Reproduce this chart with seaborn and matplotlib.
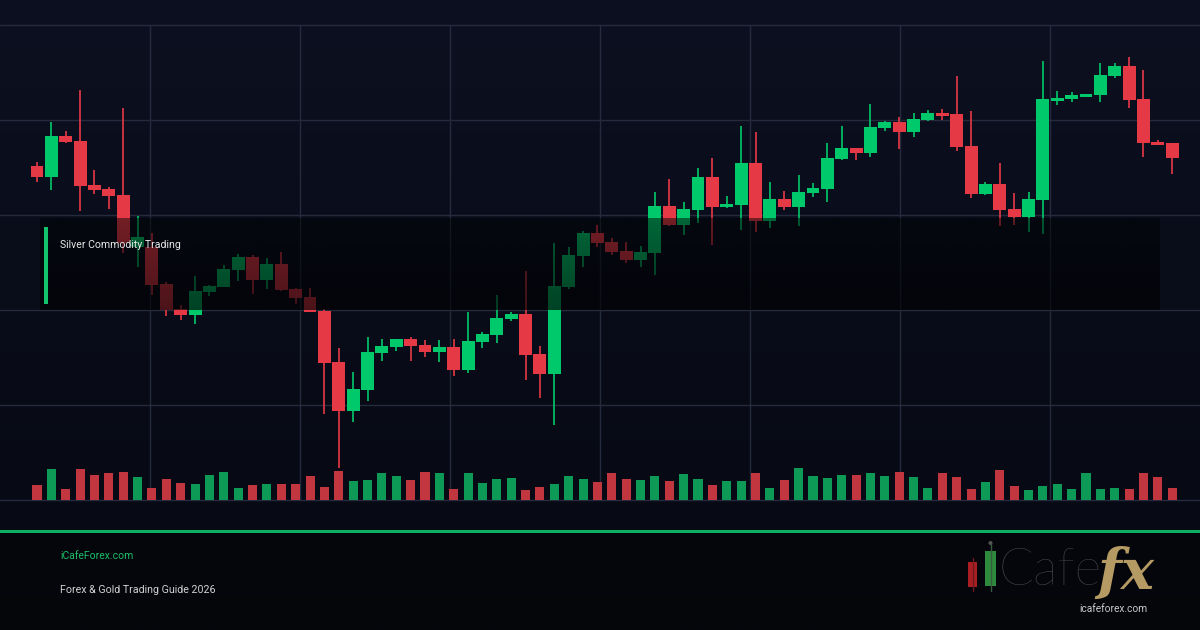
import numpy as np
import pandas as pd
import matplotlib.pyplot as plt
import matplotlib.colors as mcolors
from matplotlib.patches import Rectangle, Circle
import seaborn as sns

# candle readings (price units, one value per session)
opens = [334, 323, 364, 359, 315, 311, 305, 253, 253, 216,
         191, 185, 208, 213, 230, 243, 220, 236, 211, 203,
         189, 138, 89, 110, 147, 153, 161, 155, 148, 153,
         130, 158, 165, 181, 186, 146, 126, 213, 244, 267,
         258, 249, 240, 247, 294, 275, 290, 323, 293, 295,
         337, 279, 301, 293, 307, 311, 341, 352, 347, 372,
         378, 368, 380, 387, 386, 354, 306, 316, 291, 283,
         300, 399, 401, 403, 405, 424, 434, 401, 358, 357]
highs = [338, 378, 369, 410, 330, 313, 392, 284, 267, 218,
         195, 224, 215, 235, 246, 245, 242, 248, 212, 212,
         191, 152, 128, 163, 161, 161, 163, 160, 160, 161,
         188, 168, 205, 188, 229, 154, 257, 253, 269, 275,
         262, 258, 254, 308, 321, 298, 332, 342, 304, 374,
         368, 318, 309, 325, 317, 357, 374, 352, 396, 379,
         383, 387, 390, 391, 424, 389, 318, 337, 307, 308,
         439, 409, 408, 406, 437, 437, 443, 430, 360, 357]
lows = [318, 310, 357, 289, 306, 291, 247, 233, 205, 184,
        180, 176, 204, 213, 219, 206, 211, 209, 196, 188,
        86, 32, 78, 99, 139, 149, 139, 143, 138, 124,
        127, 152, 157, 179, 120, 102, 75, 211, 233, 253,
        245, 237, 233, 225, 274, 265, 277, 255, 292, 270,
        268, 272, 290, 274, 303, 298, 340, 340, 343, 369,
        351, 363, 379, 380, 349, 302, 305, 274, 275, 268,
        266, 395, 398, 403, 398, 422, 392, 343, 355, 326]
closes = [323, 364, 358, 314, 310, 304, 257, 263, 215, 190,
          185, 209, 214, 231, 243, 220, 236, 210, 202, 188,
          137, 89, 111, 148, 154, 161, 154, 148, 153, 130,
          159, 166, 182, 186, 145, 126, 214, 245, 267, 257,
          248, 240, 248, 294, 275, 291, 323, 293, 296, 337,
          279, 301, 293, 308, 312, 342, 352, 347, 373, 378,
          368, 381, 387, 384, 353, 306, 316, 290, 283, 301,
          401, 402, 405, 406, 425, 434, 400, 357, 355, 342]
volumes = [15, 31, 11, 31, 25, 27, 28, 23, 12, 21,
           17, 16, 25, 28, 12, 15, 16, 16, 16, 24,
           13, 29, 19, 20, 27, 24, 20, 28, 27, 11,
           27, 17, 21, 22, 10, 13, 16, 24, 21, 18,
           27, 21, 20, 24, 19, 26, 21, 15, 19, 19,
           27, 12, 20, 32, 24, 22, 25, 25, 27, 24,
           28, 23, 12, 27, 23, 11, 18, 30, 14, 10,
           14, 16, 11, 27, 11, 12, 11, 27, 23, 12]

chart_title = 'Silver Commodity Trading'
site_name = 'iCafeForex.com'
guide_name = 'Forex & Gold Trading Guide 2026'
logo_word = 'Cafe'
logo_fx = 'fx'
logo_url = 'icafeforex.com'

UP = '#00c96b'
DOWN = '#e63946'
UP_VOL = '#0d9a56'
DOWN_VOL = '#c2363f'
GRID = '#252b3d'

sns.set_theme(style='dark')
plt.rcParams['font.family'] = ['Roboto', 'DejaVu Sans']

df = pd.DataFrame({'open': opens, 'high': highs, 'low': lows,
                   'close': closes, 'volume': volumes})
df['i'] = np.arange(len(df))
df['dir'] = np.where(df['close'] >= df['open'], 'up', 'down')

W, H = 1200, 630
fig = plt.figure(figsize=(12, 6.3), dpi=100)

# background gradient + grid, in pixel coordinates
bg = fig.add_axes([0, 0, 1, 1], zorder=0)


def lerp(c1, c2, n):
    a = np.array(mcolors.to_rgb(c1))
    b = np.array(mcolors.to_rgb(c2))
    t = np.linspace(0, 1, n)[:, None]
    return a + (b - a) * t


grad = np.vstack([lerp('#0c1020', '#070a14', 530), lerp('#05070d', '#04060a', 100)])
bg.imshow(grad[:, None, :], extent=(0, W, H, 0), aspect='auto', interpolation='bilinear')
for gy in [25, 120, 215, 310, 405, 500]:
    bg.plot([0, W], [gy, gy], color=GRID, lw=1)
for gx in [150, 300, 450, 600, 750, 900, 1050]:
    bg.plot([gx, gx], [25, 500], color=GRID, lw=1)
bg.set_xlim(0, W)
bg.set_ylim(H, 0)
bg.axis('off')

# candles
ax = fig.add_axes([0, 130 / H, 1, 475 / H], zorder=1)
ax.patch.set_alpha(0)
cols = df['dir'].map({'up': UP, 'down': DOWN})
ax.vlines(df['i'], df['low'], df['high'], colors=cols, lw=1.2)
body_lo = np.minimum(df['open'], df['close'])
body_h = np.maximum((df['close'] - df['open']).abs(), 1.5)
ax.bar(df['i'], body_h, bottom=body_lo, width=0.9, color=cols, linewidth=0)

# volume
ax2 = ax.twinx()
sns.barplot(data=df, x='i', y='volume', hue='dir',
            palette={'up': UP_VOL, 'down': DOWN_VOL}, dodge=False,
            width=0.63, saturation=1, legend=False, linewidth=0,
            edgecolor='none', ax=ax2)
ax2.set_ylim(0, 475)
ax.set_ylim(0, 475)
step = 14.37
ax.set_xlim(-37 / step, (W - 37) / step)
ax.axis('off')
ax2.axis('off')

# overlay: label box, footer, logo
ov = fig.add_axes([0, 0, 1, 1], zorder=5)
ov.patch.set_alpha(0)
shade = np.zeros((100, 1, 4))
shade[..., :3] = mcolors.to_rgb('#010204')
shade[..., 3] = np.linspace(0.5, 0.68, 100)[:, None]
ov.imshow(shade, extent=(40, 1160, 310, 218), aspect='auto', interpolation='bilinear')
ov.add_patch(Rectangle((44, 227), 4, 77, color='#12c46c', lw=0))
ov.text(60, 245, chart_title, color='#e8e8e8', fontsize=7.6, va='center')

ov.add_patch(Rectangle((0, 530), W, 3, color='#0fb062', lw=0))
ov.text(60, 556, site_name, color='#1dbf69', fontsize=7.5, va='center')
ov.text(60, 590, guide_name, color='#d2d2d2', fontsize=7.7, va='center')

# logo
ov.plot([972.5, 972.5], [558, 591], color='#6b1a1d', lw=1)
ov.add_patch(Rectangle((968, 562), 9, 25, color='#a81e22', lw=0))
ov.plot([990.5, 990.5], [544, 591], color='#3a5a40', lw=1)
ov.add_patch(Rectangle((985, 551), 11, 35, color='#2e8b3e', lw=0))
ov.add_patch(Circle((990.5, 543), 2, color='#555555', lw=0))
ov.text(998, 571, logo_word, color='#4d4d4d', fontsize=37, family=['Lato', 'DejaVu Sans'],
        fontweight='light', va='center')
ov.text(1097, 573, logo_fx, color='#b59b63', fontsize=40, family=['DejaVu Serif'],
        style='italic', fontweight='bold', va='center')
ov.text(1113, 609, logo_url, color='#c9c9c9', fontsize=7.3, ha='center', va='center')
ov.set_xlim(0, W)
ov.set_ylim(H, 0)
ov.axis('off')

fig.savefig('out.png', dpi=100, facecolor='#05070d')
